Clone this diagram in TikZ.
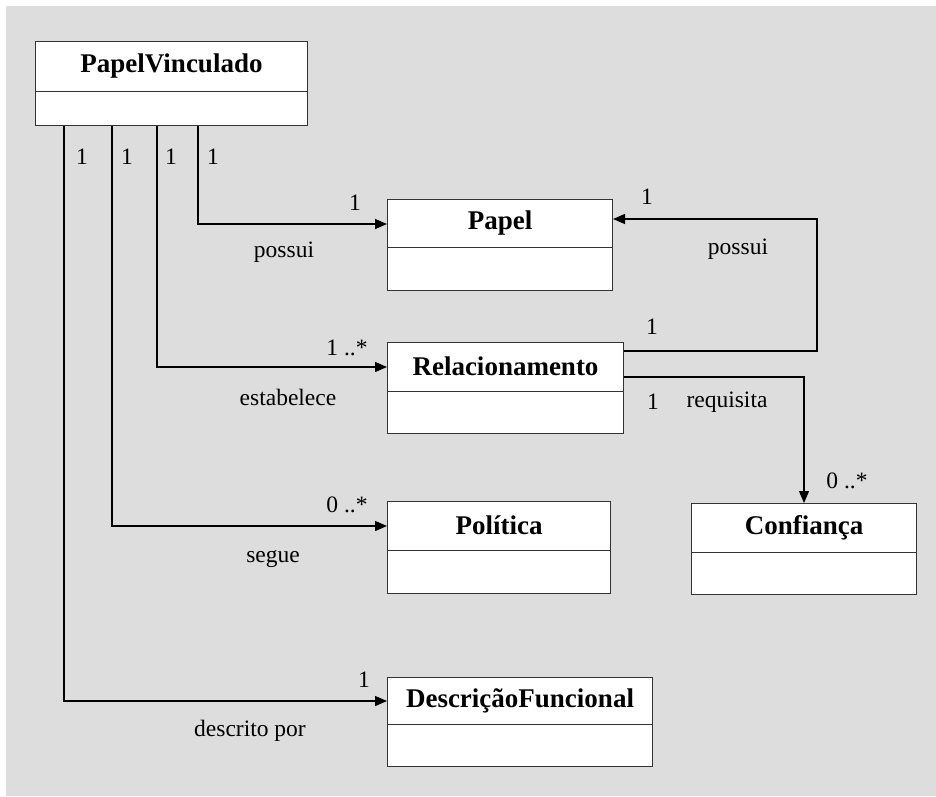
\documentclass[tikz,border=0pt]{standalone}
\usepackage{fontspec}
\setmainfont{Liberation Serif}
\usetikzlibrary{arrows.meta,calc}
\definecolor{canvas}{HTML}{DDDDDD}
\definecolor{edge}{HTML}{333333}

\tikzset{
  classbox/.style={draw=edge, line width=1pt, fill=white, inner sep=0pt, anchor=north west},
  divider/.style={draw=edge, line width=1pt},
  classname/.style={font=\fontsize{27}{30}\selectfont\bfseries, inner sep=0pt},
  lbl/.style={font=\fontsize{23.5}{26}\selectfont, inner sep=0pt},
  assoc/.style={draw=black, line width=1.3pt, -{Triangle[length=12pt,width=10pt]}},
}

% \umlclass{name}{x}{y}{width}{height}{title compartment height}{title}
\newcommand\umlclass[7]{%
  \node[classbox, minimum width=#4pt, minimum height=#5pt] (#1) at (#2,#3) {};
  \path (#1.north west) ++(0,#6) coordinate (#1-div);
  \draw[divider] (#1-div) -- (#1-div -| #1.east);
  \node[classname] (#1-name) at ($(#1.north)!0.5!(#1-div -| #1.north)$) {#7};
}

\begin{document}
\begin{tikzpicture}[x=1pt, y=-1pt]
  \useasboundingbox (0,0) rectangle (936,796);
  \fill[canvas] (6,6) rectangle (936,796);

  % classes
  \umlclass{pv}{35}{41}{272}{84}{50}{PapelVinculado}
  \umlclass{papel}{387}{199}{225}{91}{48}{Papel}
  \umlclass{rel}{387}{342}{236}{91}{49}{Relacionamento}
  \umlclass{pol}{387}{501}{223}{92}{49}{Política}
  \umlclass{conf}{691}{503}{225}{91}{49}{Confiança}
  \umlclass{df}{387}{677}{265}{89}{47}{DescriçãoFuncional}

  % bend points of the associations
  \coordinate (k1) at (198,224);
  \coordinate (k2) at (157,367);
  \coordinate (k3) at (112,526);
  \coordinate (k4) at (64,701);
  \coordinate (r1) at (817,351);
  \coordinate (r2) at (817,219);
  \coordinate (q1) at (803,377);

  % associations leaving PapelVinculado
  \draw[assoc] (pv.south -| k1) |- (papel.west |- k1);
  \draw[assoc] (pv.south -| k2) |- (rel.west |- k2);
  \draw[assoc] (pv.south -| k3) |- (pol.west |- k3);
  \draw[assoc] (pv.south -| k4) |- (df.west |- k4);

  % Relacionamento -> Papel and Relacionamento -> Confiança
  \draw[assoc] (rel.east |- r1) -- (r1) -- (r2) -- (papel.east |- r2);
  \draw[assoc] (rel.east |- q1) -| (conf.north);

  % multiplicities at PapelVinculado
  \node[lbl] (m1) at (82,157) {1};
  \node[lbl] (m2) at (127,157) {1};
  \node[lbl] (m3) at (171,157) {1};
  \node[lbl] (m4) at (213,157) {1};

  % association labels
  \node[lbl] (papel-m) at (355,203) {1};
  \node[lbl] (papel-l) at (284,252) {possui};
  \node[lbl] (rel-m) at (347,348) {1 ..*};
  \node[lbl] (rel-l) at (288,397) {estabelece};
  \node[lbl] (pol-m) at (347,505) {0 ..*};
  \node[lbl] (pol-l) at (273,559) {segue};
  \node[lbl] (df-m) at (364,680) {1};
  \node[lbl] (df-l) at (250,731) {descrito por};

  \node[lbl] (ret-m1) at (647,197) {1};
  \node[lbl] (ret-l) at (738,249) {possui};
  \node[lbl] (ret-m2) at (652,327) {1};

  \node[lbl] (req-m1) at (653,402) {1};
  \node[lbl] (req-l) at (727,402) {requisita};
  \node[lbl] (req-m2) at (847,481) {0 ..*};
\end{tikzpicture}
\end{document}
